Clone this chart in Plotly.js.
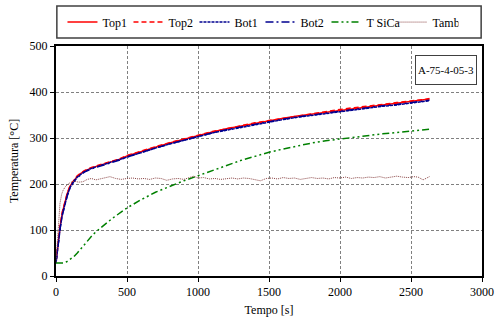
<!DOCTYPE html>
<html><head><meta charset="utf-8">
<script src="https://cdn.plot.ly/plotly-3.0.1.min.js"></script>
<style>html,body{margin:0;padding:0;background:#fff}#chart{width:495px;height:321px}</style>
</head><body><div id="chart"></div>
<script>
// Time axis for heater/bottom thermocouples (s)
const tMain = [0,10,20,30,45,60,80,100,125,150,175,200,250,300,350,400,450,500,600,700,800,900,1000,1100,1200,1300,1400,1500,1600,1700,1800,1900,2000,2100,2200,2300,2400,2500,2600,2630];
const top1 = [30,60,88,110,138,158,180,196,208,217,223,228,235,240,245,249,254,261,271,280,289,297,306,313,320,326,332,338,343,348,352,357,361,365,369,373,376,380,384,385];
const top2 = [31,62,90,112,140,160,181,197,209,218,224,229,236,241,246,250,255,262,272,281,290,298,306,314,320,327,333,338,343,348,353,357,362,366,369,373,377,380,384,386];
const bot1 = [29,56,84,106,134,154,176,193,206,215,222,227,234,239,243,248,253,259,269,278,287,295,303,311,317,323,329,335,340,345,349,354,358,362,365,369,372,376,379,381];
const bot2 = [28,55,83,105,133,153,175,192,205,214,221,226,233,238,243,247,252,259,269,278,287,295,304,311,318,324,330,336,341,346,350,355,359,363,366,370,373,377,380,382];
// Specimen temperature
const tSiCa = [0,25,50,75,100,125,150,200,260,300,360,400,500,600,700,800,900,1000,1100,1200,1300,1400,1500,1600,1700,1800,1900,2000,2100,2200,2300,2400,2500,2600,2630];
const siCa = [28,28,28,31,36,42,50,68,90,101,116,126,148,166,182,195,207,218,229,240,251,260,269,276,283,289,294,298,302,305,309,312,315,318,319];
// Ambient temperature
const tAmb = [0,8,16,28,40,51,70,99,130,160,190,220,250,280,310,350,380,420,460,500,540,580,620,660,700,740,780,820,860,900,940,970,1000,1040,1080,1120,1160,1200,1240,1280,1320,1360,1400,1440,1480,1520,1560,1600,1640,1680,1720,1760,1800,1840,1880,1920,1960,2000,2040,2080,2120,2160,2200,2240,2280,2320,2360,2400,2440,2480,2520,2550,2585,2610,2630];
const amb  = [30,70,107,158,178,187,196,203,206,204,205,210,212,209,211,214,216,212,210,212,213,211,212,210,213,212,208,211,212,210,214,217,213,214,211,212,210,212,213,211,213,212,210,207,212,213,211,214,212,213,210,212,214,212,213,211,214,213,215,212,214,213,215,214,216,213,215,217,215,214,216,215,209,212,216];

const traces = [
  {name:'Top1', x:tMain, y:top1, mode:'lines', line:{color:'#FF0000', width:1.5}},
  {name:'Top2', x:tMain, y:top2, mode:'lines', line:{color:'#FF0000', width:1.5, dash:'5px,3px'}},
  {name:'Bot1', x:tMain, y:bot1, mode:'lines', line:{color:'#000090', width:1.5, dash:'3px,1px'}},
  {name:'Bot2', x:tMain, y:bot2, mode:'lines', line:{color:'#000090', width:1.5, dash:'8px,3px,2px,3px'}},
  {name:'T SiCa', x:tSiCa, y:siCa, mode:'lines', line:{color:'#008000', width:1.5, dash:'7px,3px,2px,3px,2px,3px'}},
  {name:'Tamb', x:tAmb, y:amb, mode:'lines', line:{color:'#8B4545', width:1, dash:'1px,1px'}}
];

const layout = {
  width:495, height:321,
  margin:{l:56, r:13, t:46, b:45, autoexpand:false},
  paper_bgcolor:'#fff', plot_bgcolor:'#fff',
  font:{family:'"Liberation Serif", "Times New Roman", serif', size:12, color:'#000'},
  showlegend:true,
  legend:{orientation:'h', x:0.48, xanchor:'center', y:1.104, yanchor:'middle',
          entrywidth:21, entrywidthmode:'pixels',
          bgcolor:'rgba(0,0,0,0)', borderwidth:0, font:{size:12, color:'#000'}},
  xaxis:{range:[0,3000], dtick:500, tick0:0, showgrid:true, gridcolor:'#808080', griddash:'3px,2px', gridwidth:1,
         zeroline:false, showline:true, mirror:true, linecolor:'#000', linewidth:2,
         ticks:'outside', ticklen:4, tickcolor:'#000',
         title:{text:'Tempo [s]', standoff:7, font:{size:12, color:'#000'}}},
  yaxis:{range:[0,500], dtick:100, tick0:0, showgrid:true, gridcolor:'#808080', griddash:'3px,2px', gridwidth:1,
         zeroline:false, showline:true, mirror:true, linecolor:'#000', linewidth:2,
         ticks:'outside', ticklen:4, tickcolor:'#000',
         title:{text:'Temperatura [°C]', standoff:8, font:{size:12, color:'#000'}}},
  shapes:[{type:'rect', xref:'paper', yref:'paper', x0:0.002, x1:0.998, y0:1.035, y1:1.174,
           line:{color:'#404040', width:1.5}, fillcolor:'rgba(0,0,0,0)'}],
  annotations:[{xref:'paper', yref:'paper', x:0.9155, y:0.8957, xanchor:'center', yanchor:'middle',
                text:'A-75-4-05-3', showarrow:false, font:{size:11, color:'#000'}, width:58, height:26,
                bordercolor:'#404040', borderwidth:1, bgcolor:'#fff'}]
};
Plotly.newPlot('chart', traces, layout, {displayModeBar:false, staticPlot:true});
</script></body></html>
